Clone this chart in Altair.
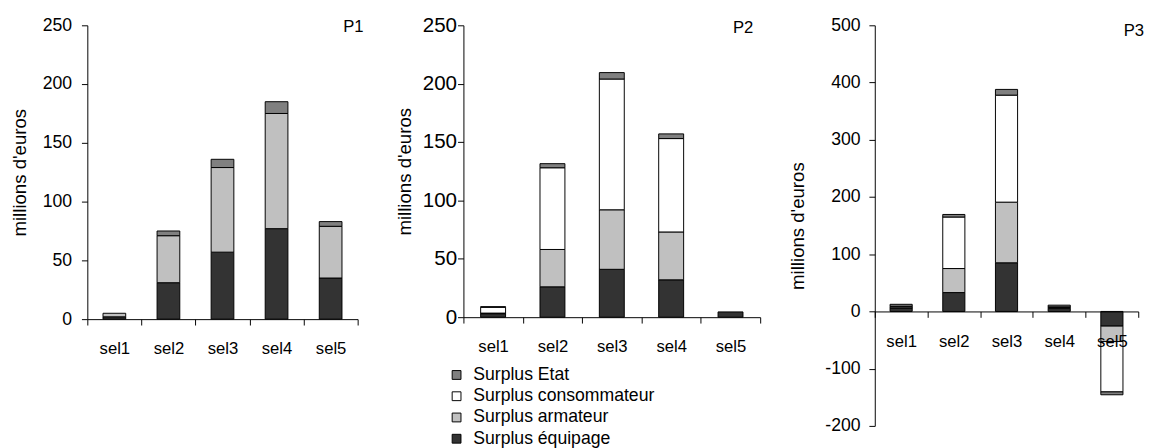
import altair as alt
import pandas as pd

FONT = "Liberation Sans"

categories = ["sel1", "sel2", "sel3", "sel4", "sel5"]
series = ["Surplus équipage", "Surplus armateur", "Surplus consommateur", "Surplus Etat"]
colors = ["#333333", "#c0c0c0", "#ffffff", "#808080"]

# P1
p1_equipage = [2, 31, 57, 77, 35]
p1_armateur = [3, 40, 72, 98, 44]
p1_consommateur = [0, 0, 0, 0, 0]
p1_etat = [0, 4, 7, 10, 4]

# P2
p2_equipage = [3, 26, 41, 32, 4.5]
p2_armateur = [0.5, 32, 51, 41, 0]
p2_consommateur = [5, 70, 112, 80, 0]
p2_etat = [0.5, 3.5, 5.5, 4, 0]

# P3
p3_equipage = [6, 33, 85, 5, -25.6]
p3_armateur = [2, 42, 106, 2, -27]
p3_consommateur = [1, 90, 187, 1, -88]
p3_etat = [3.5, 4.5, 10, 3, -5]

y_ticks_p1 = [0, 50, 100, 150, 200, 250]
y_ticks_p2 = [0, 50, 100, 150, 200, 250]
y_ticks_p3 = [-200, -100, 0, 100, 200, 300, 400, 500]


def frame(vals):
    rows = []
    for si, (s, arr) in enumerate(zip(series, vals)):
        for c, v in zip(categories, arr):
            if v != 0:
                rows.append({"sel": c, "serie": s, "rank": si, "value": v})
    return pd.DataFrame(rows)


color_scale = alt.Scale(domain=series[::-1], range=colors[::-1])


def panel(df, tag, width, height, ydomain, yvalues, label_size, label_pad, title_pad,
          tag_x, tag_y, x_axis, legend):
    bars = alt.Chart(df).mark_bar(
        stroke="black", strokeWidth=1, width=alt.RelativeBandSize(0.42)
    ).encode(
        x=alt.X("sel:N", sort=categories,
                scale=alt.Scale(paddingInner=0, paddingOuter=0), axis=x_axis),
        y=alt.Y("value:Q", stack="zero",
                scale=alt.Scale(domain=ydomain, nice=False),
                axis=alt.Axis(values=yvalues, title="millions d'euros",
                              labelExpr="datum.value < 0 ? '-' + abs(datum.value) : '' + datum.value",
                              grid=False, tickSize=6, labelPadding=label_pad,
                              titlePadding=title_pad, labelFontSize=label_size,
                              titleFontSize=19, titleFontWeight="normal",
                              labelColor="black", titleColor="black",
                              domainColor="black", tickColor="black",
                              labelFont=FONT, titleFont=FONT)),
        color=alt.Color("serie:N", scale=color_scale, legend=legend),
        order=alt.Order("rank:Q"),
    )
    label = alt.Chart(pd.DataFrame({"t": [tag]})).mark_text(
        align="right", baseline="alphabetic", fontSize=17, font=FONT, color="black"
    ).encode(text="t:N", x=alt.value(tag_x), y=alt.value(tag_y))
    return alt.layer(bars, label).properties(width=width, height=height)


def bottom_axis(pad):
    return alt.Axis(title=None, labelAngle=0, tickBand="extent", tickSize=6,
                    labelPadding=pad, labelFontSize=17, labelFont=FONT,
                    labelColor="black", domainColor="black", tickColor="black")


H3 = 409
p3_axis = alt.Axis(title=None, labelAngle=0, tickBand="extent", tickSize=6,
                   labelPadding=17, labelFontSize=17, labelFont=FONT,
                   labelColor="black", domainColor="black", tickColor="black",
                   offset=-H3 * 200 / 700, zindex=1)

legend = alt.Legend(orient="none", legendX=-16, legendY=348, title=None,
                    symbolType="square", symbolSize=81, symbolStrokeColor="black",
                    symbolStrokeWidth=1, labelFontSize=18, labelFont=FONT,
                    labelColor="black", labelOffset=8, rowPadding=3.7, padding=0,
                    labelLimit=0)

c1 = panel(frame([p1_equipage, p1_armateur, p1_consommateur, p1_etat]), "P1",
           276, 300, [0, 250], y_ticks_p1, 18, 10, 13, 282, 7.3, bottom_axis(16), None)
c2 = panel(frame([p2_equipage, p2_armateur, p2_consommateur, p2_etat]), "P2",
           303, 298, [0, 250], y_ticks_p2, 21, 1, 7.7, 296, 7.6, bottom_axis(16), legend)
c3 = panel(frame([p3_equipage, p3_armateur, p3_consommateur, p3_etat]), "P3",
           269, H3, [-200, 500], y_ticks_p3, 18, 9, 17.5, 275, 11, p3_axis, None)

inner = alt.hconcat(c1, c2, spacing=31).resolve_scale(color="independent").resolve_legend(color="independent")
chart = alt.hconcat(inner, c3, spacing=27).resolve_scale(color="independent").resolve_legend(color="independent")
chart = chart.properties(
    padding={"left": 2, "top": 1, "right": 5, "bottom": 0}
).configure(font=FONT).configure_view(stroke="transparent")

chart.save("out.html", embed_options={"renderer": "svg", "actions": False})
